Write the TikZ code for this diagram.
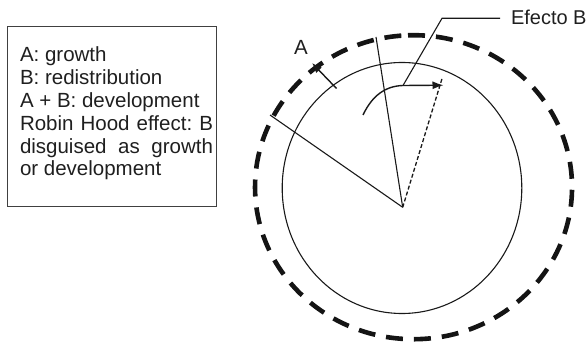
\documentclass[tikz,border=0pt]{standalone}
\usepackage{fontspec}
\setmainfont{Liberation Sans}
\usetikzlibrary{arrows.meta}
\tikzset{
  thinline/.style={line width=1.1pt, draw=black!90},
  lbl/.style={inner sep=0pt, outer sep=0pt, anchor=base west, font=\fontsize{20.5}{22.8}\selectfont, text=black!88},
  boxline/.style={line width=1pt, draw=black!75},
  bigdash/.style={line width=4.6pt, draw=black!92, dash pattern=on 17pt off 11pt},
  smalldash/.style={line width=1.3pt, draw=black!90, dash pattern=on 4pt off 2.2pt},
  tipA/.style={-{Latex[length=10pt,width=8pt]}},
  tipB/.style={-{Latex[length=11pt,width=8pt]}}
}
\begin{document}
\begin{tikzpicture}[x=1pt,y=-1pt]
\useasboundingbox (0,0) rectangle (588,344);

% legend box
\draw[boxline] (7.3,26.7) rectangle (216,206.7);
\node[lbl] (t1) at (20,61.5) {A: growth};
\node[lbl] (t2) at (20,84.4) {B: redistribution};
\node[lbl] (t3) at (20,107.3) {A + B: development};
\node[lbl] (t4) at (20,130.2) {\hbox to 193pt{Robin\hfil Hood\hfil effect:\hfil B}};
\node[lbl] (t5) at (20,153.1) {\hbox to 193pt{disguised\hfil as\hfil growth}};
\node[lbl] (t6) at (20,176) {or development};

% circles
\draw[thinline] (402,188) ellipse [x radius=119.8, y radius=125.5];
\draw[bigdash] (408,35.3) arc [start angle=-92, end angle=268, x radius=158.5, y radius=152];

% points
\coordinate (V) at (402.7,207.3);
\coordinate (R1) at (270,115);
\coordinate (R2) at (376,37);
\coordinate (D) at (442.5,77);
\coordinate (As) at (336.5,88.5);
\coordinate (Ae) at (312,63);
\coordinate (Cs) at (363,115);
\coordinate (Cm) at (403,85.5);
\coordinate (Ce) at (443.5,85.2);
\coordinate (L1) at (442,18.3);
\coordinate (L2) at (500,18.3);

% radii
\draw[thinline] (V) -- (R1);
\draw[thinline] (V) -- (R2);
\draw[smalldash] (V) -- (D);

% growth arrow
\draw[thinline, line width=1.4pt, tipA] (As) -- (Ae);
\node[lbl, anchor=base] (A) at (301,55) {A};

% redistribution arrow
\draw[thinline, line width=1.4pt, tipB] (Cs) .. controls (372,96) and (385,86) .. (Cm) -- (Ce);

% leader
\draw[thinline] (Cm) -- (L1) -- (L2);
\node[lbl, font=\fontsize{20}{22}\selectfont] (EB) at (511,25) {Efecto B};
\end{tikzpicture}
\end{document}
